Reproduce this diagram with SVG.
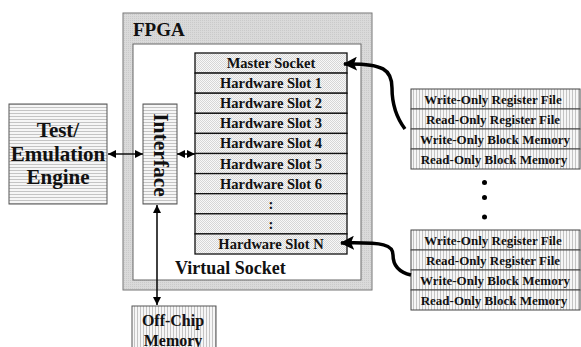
<svg xmlns="http://www.w3.org/2000/svg" width="581" height="347" viewBox="0 0 581 347">
<defs>
<pattern id="hl" width="4" height="3" patternUnits="userSpaceOnUse"><rect width="4" height="3" fill="#f6f6f6"/><rect y="2" width="4" height="1" fill="#c4c4c4"/></pattern>
<pattern id="vl" width="3" height="4" patternUnits="userSpaceOnUse"><rect width="3" height="4" fill="#f6f6f6"/><rect x="2" width="1" height="4" fill="#c4c4c4"/></pattern>
<pattern id="st" width="2" height="2" patternUnits="userSpaceOnUse"><rect width="2" height="2" fill="#f8f8f8"/><rect width="1" height="1" fill="#d6d6d6"/><rect x="1" y="1" width="1" height="1" fill="#d6d6d6"/></pattern>
<pattern id="gs" width="2" height="2" patternUnits="userSpaceOnUse"><rect width="2" height="2" fill="#dadada"/><rect width="1" height="1" fill="#cacaca"/></pattern>
<marker id="big" markerUnits="userSpaceOnUse" markerWidth="14" markerHeight="14" viewBox="0 0 14 14" refX="13" refY="7" orient="auto"><path d="M0,0 L14,7 L0,14 L3,7 Z" fill="#000"/></marker>
<marker id="sm" markerUnits="userSpaceOnUse" markerWidth="8" markerHeight="8" viewBox="0 0 8 8" refX="8" refY="4" orient="auto-start-reverse"><path d="M0,0 L8,4 L0,8 Z" fill="#000"/></marker>
<style>
.t{font-family:"Liberation Serif","Times New Roman",serif;font-weight:bold;fill:#111}
.row{fill:url(#st);stroke:#111;stroke-width:1.3}
.rb{fill:url(#vl);stroke:#444;stroke-width:1}
.ln{stroke:#111;stroke-width:1.6;fill:none}
.cv{stroke:#000;stroke-width:3.5;fill:none}
</style>
</defs>

<g id="fpga">
<rect x="123" y="13" width="249" height="277" fill="url(#gs)" stroke="#777" stroke-width="1"/>
<rect x="133" y="44" width="228" height="236" fill="#fff" stroke="#666" stroke-width="1"/>
<text class="t" x="133" y="35.5" font-size="19">FPGA</text>
<text class="t" x="175" y="274" font-size="18">Virtual Socket</text>
</g>

<g id="test-engine">
<rect x="9" y="104" width="98" height="100" fill="url(#hl)" stroke="#555" stroke-width="1"/>
<text class="t" font-size="21" text-anchor="middle"><tspan x="58" y="136.5">Test/</tspan><tspan x="58" y="160.5">Emulation</tspan><tspan x="58" y="184">Engine</tspan></text>
</g>

<g id="interface">
<rect x="143" y="104" width="34" height="100" fill="url(#hl)" stroke="#555" stroke-width="1"/>
<text class="t" font-size="21.5" text-anchor="middle" transform="translate(153.5,155) rotate(90)" x="0" y="0">Interface</text>
</g>

<g id="virtual-socket-stack">
<rect class="row" x="195" y="53" width="152" height="20.1"/>
<rect class="row" x="195" y="73.1" width="152" height="20.1"/>
<rect class="row" x="195" y="93.2" width="152" height="20.1"/>
<rect class="row" x="195" y="113.3" width="152" height="20.1"/>
<rect class="row" x="195" y="133.4" width="152" height="20.1"/>
<rect class="row" x="195" y="153.5" width="152" height="20.1"/>
<rect class="row" x="195" y="173.6" width="152" height="20.1"/>
<rect class="row" x="195" y="193.7" width="152" height="20.1"/>
<rect class="row" x="195" y="213.8" width="152" height="20.1"/>
<rect class="row" x="195" y="233.9" width="152" height="20.1"/>
<g class="t" font-size="14.5" text-anchor="middle">
<text x="271" y="68">Master Socket</text>
<text x="271" y="88.1">Hardware Slot 1</text>
<text x="271" y="108.2">Hardware Slot 2</text>
<text x="271" y="128.3">Hardware Slot 3</text>
<text x="271" y="148.4">Hardware Slot 4</text>
<text x="271" y="168.5">Hardware Slot 5</text>
<text x="271" y="188.6">Hardware Slot 6</text>
<text x="271" y="208.7">:</text>
<text x="271" y="228.8">:</text>
<text x="271" y="248.9">Hardware Slot N</text>
</g>
</g>

<g id="offchip-memory">
<rect x="132" y="306" width="84" height="46" fill="url(#vl)" stroke="#555" stroke-width="1"/>
<text class="t" font-size="16" text-anchor="middle"><tspan x="173" y="325.5">Off-Chip</tspan><tspan x="173" y="345.5">Memory</tspan></text>
</g>

<g id="memory-group-1">
<rect class="rb" x="411" y="89" width="169" height="20"/>
<rect class="rb" x="411" y="109" width="169" height="20"/>
<rect class="rb" x="411" y="129" width="169" height="20"/>
<rect class="rb" x="411" y="149" width="169" height="20"/>
<g class="t" font-size="13" text-anchor="middle">
<text x="493" y="104">Write-Only Register File</text>
<text x="493" y="124">Read-Only Register File</text>
<text x="495" y="144">Write-Only Block Memory</text>
<text x="494" y="164">Read-Only Block Memory</text>
</g>
</g>

<g id="memory-group-n">
<rect class="rb" x="411" y="230" width="169" height="20"/>
<rect class="rb" x="411" y="250" width="169" height="20"/>
<rect class="rb" x="411" y="270" width="169" height="20"/>
<rect class="rb" x="411" y="290" width="169" height="20"/>
<g class="t" font-size="13" text-anchor="middle">
<text x="493" y="245">Write-Only Register File</text>
<text x="493" y="265">Read-Only Register File</text>
<text x="495" y="285">Write-Only Block Memory</text>
<text x="494" y="305">Read-Only Block Memory</text>
</g>
</g>

<g id="ellipsis" fill="#000">
<circle cx="484.5" cy="182.5" r="2.5"/>
<circle cx="484.5" cy="197.5" r="2.5"/>
<circle cx="484.5" cy="217" r="2.5"/>
</g>

<g id="connectors">
<line class="ln" x1="108" y1="154" x2="143" y2="154" marker-start="url(#sm)" marker-end="url(#sm)"/>
<line class="ln" x1="177" y1="154" x2="195" y2="154" marker-start="url(#sm)" marker-end="url(#sm)"/>
<line class="ln" x1="157" y1="205" x2="157" y2="305" marker-start="url(#sm)" marker-end="url(#sm)"/>
<path class="cv" d="M405 129 C396 117, 392 105, 392 88 C392 70, 384 63, 344 64" marker-end="url(#big)"/>
<path class="cv" d="M411 275 C398 272, 393 265, 393 255 C393 245, 385 242, 341 243" marker-end="url(#big)"/>
</g>
</svg>
